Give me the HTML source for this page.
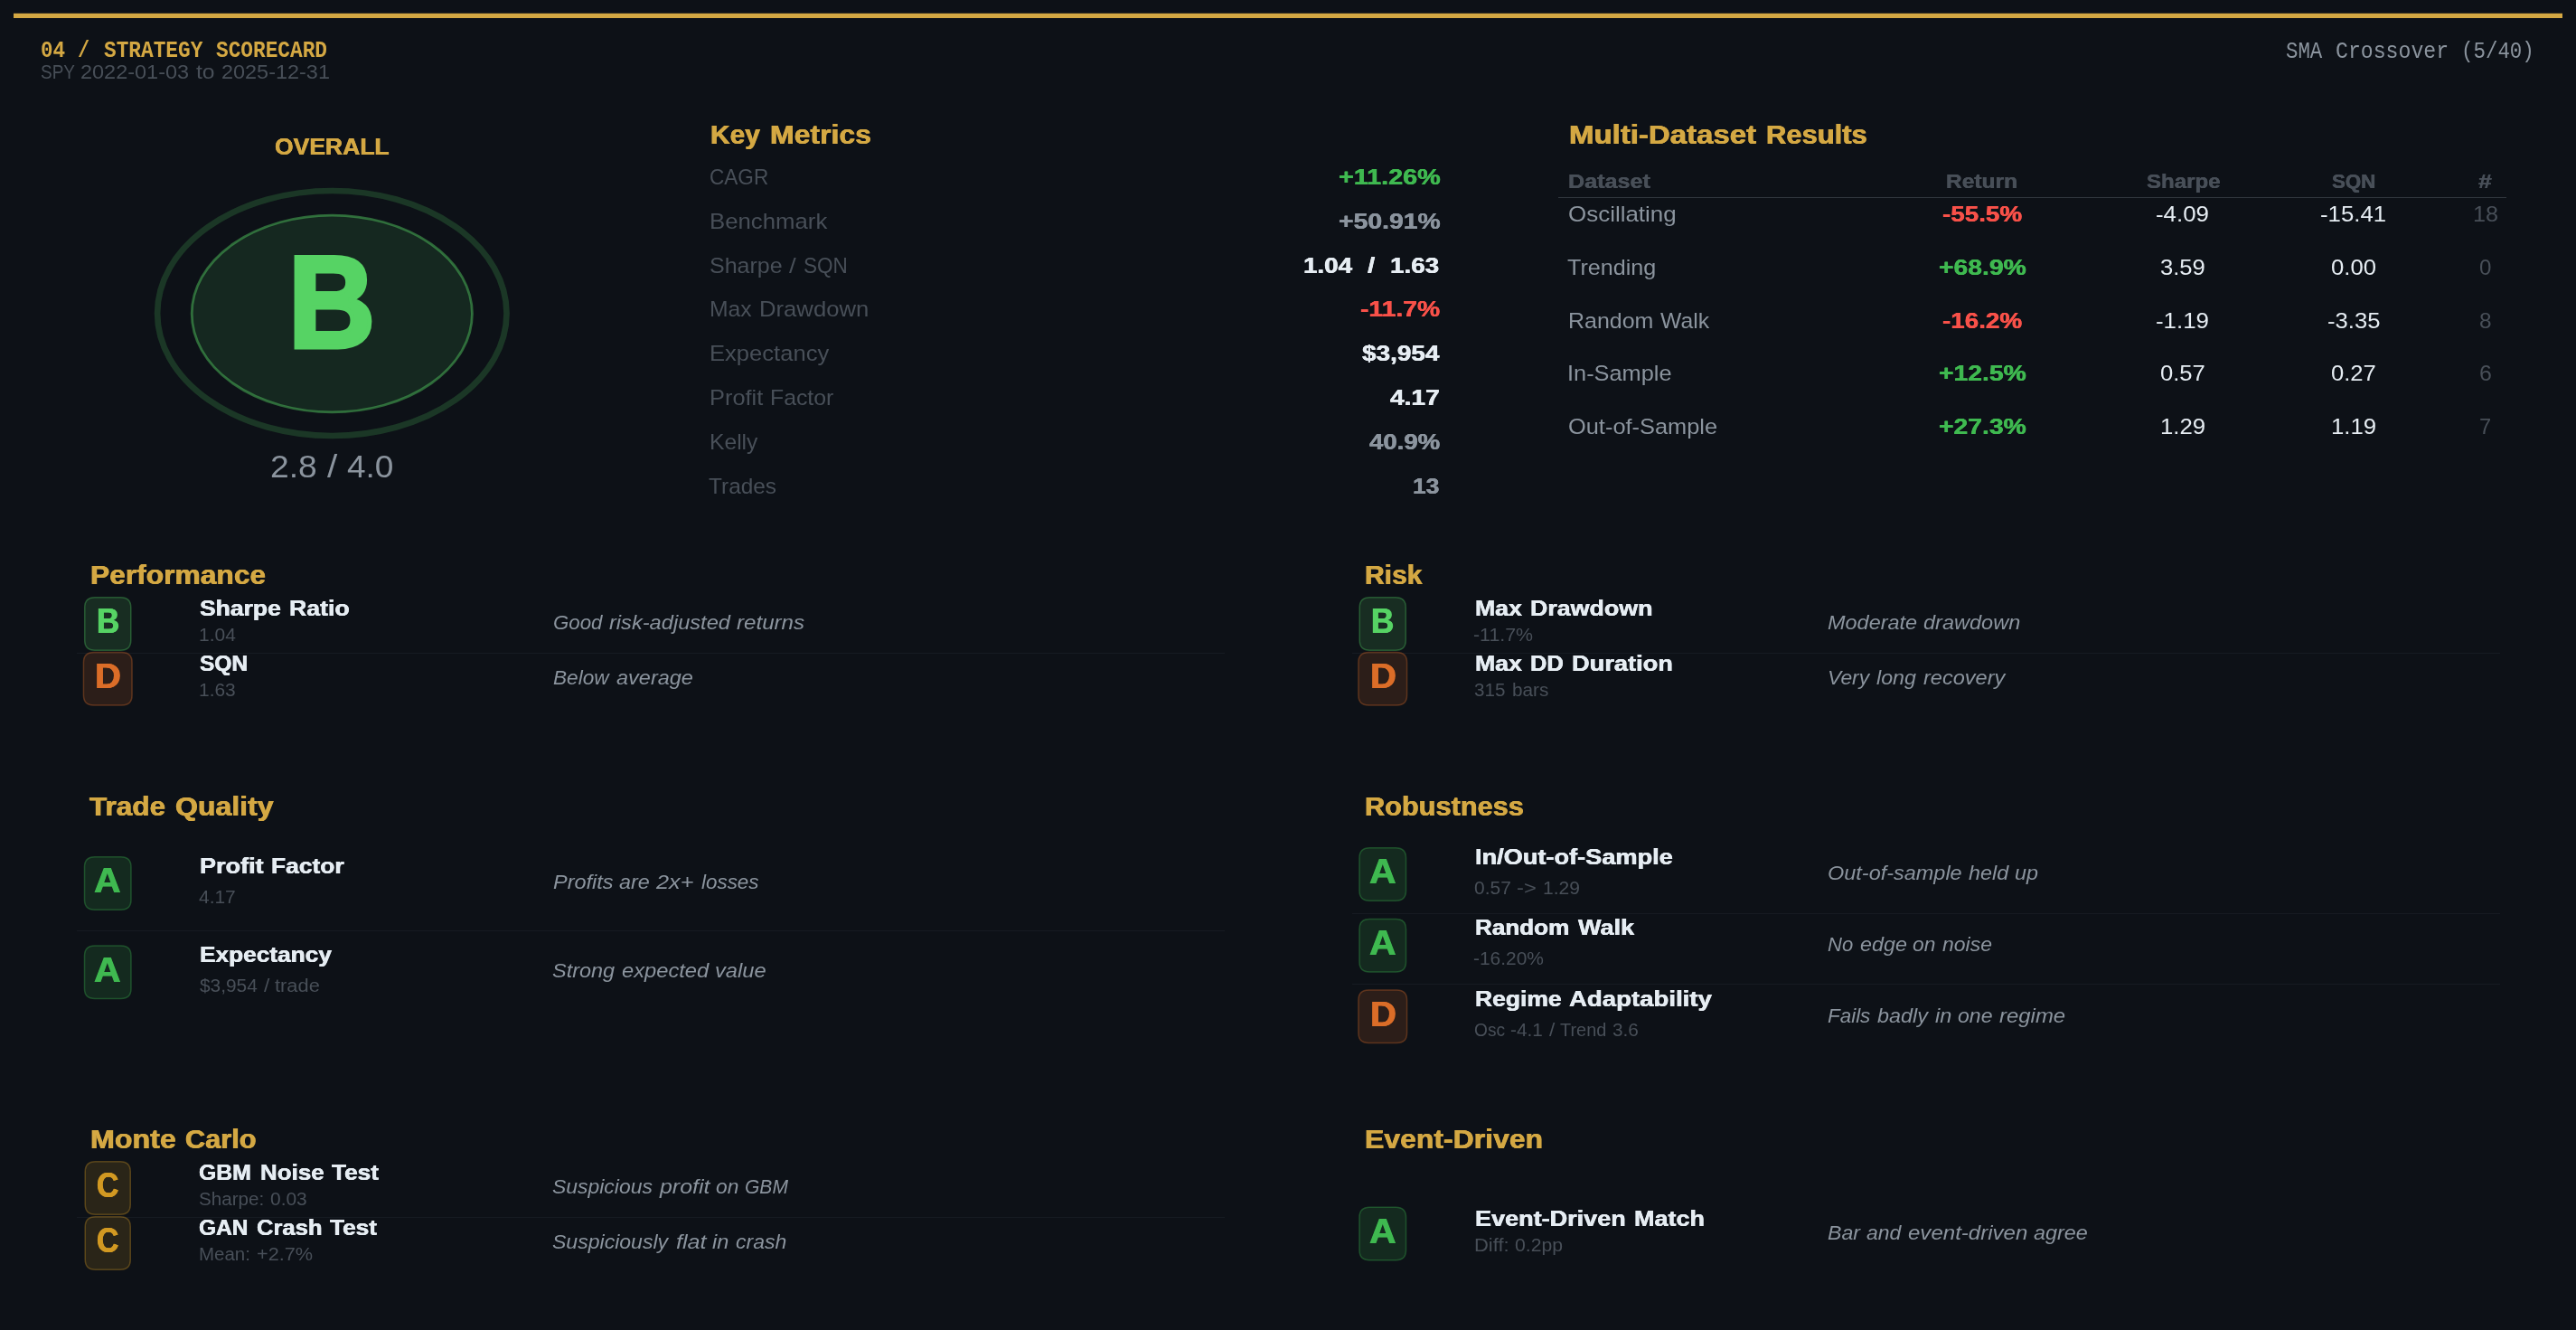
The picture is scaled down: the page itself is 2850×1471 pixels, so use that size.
<!DOCTYPE html>
<html lang="en"><head><meta charset="utf-8"><title>Strategy Scorecard</title>
<style>
html,body{margin:0;padding:0;}
body{width:2850px;height:1471px;background:#0d1117;position:relative;overflow:hidden;will-change:opacity;}
.t{position:absolute;white-space:pre;line-height:1;transform-origin:0 0;font-family:"Liberation Sans",sans-serif;}
.g{position:absolute;left:0;top:0;width:0;height:0;}
.b{font-weight:bold;}
.i{font-style:italic;}
.m{font-family:"Liberation Mono",monospace;}
.mb{font-family:"Liberation Mono",monospace;font-weight:bold;}
</style></head><body>
<div style="position:absolute;left:1724.00px;top:218.00px;width:1049.00px;height:1.00px;background:#30363d;"></div>
<div style="position:absolute;left:85.00px;top:722.00px;width:1270.00px;height:1.00px;background:#161b22;"></div>
<div style="position:absolute;left:1496.00px;top:722.00px;width:1270.00px;height:1.00px;background:#161b22;"></div>
<div style="position:absolute;left:85.00px;top:1029.00px;width:1270.00px;height:1.00px;background:#161b22;"></div>
<div style="position:absolute;left:1496.00px;top:1010.00px;width:1270.00px;height:1.00px;background:#161b22;"></div>
<div style="position:absolute;left:1496.00px;top:1088.00px;width:1270.00px;height:1.00px;background:#161b22;"></div>
<div style="position:absolute;left:85.00px;top:1346.00px;width:1270.00px;height:1.00px;background:#161b22;"></div>
<svg style="position:absolute;left:0;top:0" width="2850" height="1471" viewBox="0 0 2850 1471">
<rect x="15" y="14.8" width="2820" height="5.2" fill="#d4a843"/>
<ellipse cx="367.3" cy="346.5" rx="193.2" ry="135.5" fill="none" stroke="rgba(86,211,100,0.2)" stroke-width="6.7"/>
<ellipse cx="367.3" cy="347" rx="155.1" ry="108.9" fill="rgba(86,211,100,0.12)" stroke="rgba(86,211,100,0.45)" stroke-width="2.8"/>
<path d="M104.96,660.65 L133.54,660.65 Q144.79,660.65 144.79,671.90 L144.79,707.90 Q144.79,719.15 133.54,719.15 L104.96,719.15 Q93.71,719.15 93.71,707.90 L93.71,671.90 Q93.71,660.65 104.96,660.65 Z" fill="rgba(86,211,100,0.15)" stroke="rgba(86,211,100,0.34)" stroke-width="1.5"/>
<path d="M103.69,721.45 L134.81,721.45 Q146.06,721.45 146.06,732.70 L146.06,768.70 Q146.06,779.95 134.81,779.95 L103.69,779.95 Q92.44,779.95 92.44,768.70 L92.44,732.70 Q92.44,721.45 103.69,721.45 Z" fill="rgba(219,109,40,0.15)" stroke="rgba(219,109,40,0.34)" stroke-width="1.5"/>
<path d="M1515.46,660.65 L1544.04,660.65 Q1555.29,660.65 1555.29,671.90 L1555.29,707.90 Q1555.29,719.15 1544.04,719.15 L1515.46,719.15 Q1504.21,719.15 1504.21,707.90 L1504.21,671.90 Q1504.21,660.65 1515.46,660.65 Z" fill="rgba(86,211,100,0.15)" stroke="rgba(86,211,100,0.34)" stroke-width="1.5"/>
<path d="M1514.19,721.45 L1545.31,721.45 Q1556.56,721.45 1556.56,732.70 L1556.56,768.70 Q1556.56,779.95 1545.31,779.95 L1514.19,779.95 Q1502.94,779.95 1502.94,768.70 L1502.94,732.70 Q1502.94,721.45 1514.19,721.45 Z" fill="rgba(219,109,40,0.15)" stroke="rgba(219,109,40,0.34)" stroke-width="1.5"/>
<path d="M104.74,947.65 L133.76,947.65 Q145.01,947.65 145.01,958.90 L145.01,994.90 Q145.01,1006.15 133.76,1006.15 L104.74,1006.15 Q93.49,1006.15 93.49,994.90 L93.49,958.90 Q93.49,947.65 104.74,947.65 Z" fill="rgba(63,185,80,0.15)" stroke="rgba(63,185,80,0.34)" stroke-width="1.5"/>
<path d="M104.74,1045.95 L133.76,1045.95 Q145.01,1045.95 145.01,1057.20 L145.01,1093.20 Q145.01,1104.45 133.76,1104.45 L104.74,1104.45 Q93.49,1104.45 93.49,1093.20 L93.49,1057.20 Q93.49,1045.95 104.74,1045.95 Z" fill="rgba(63,185,80,0.15)" stroke="rgba(63,185,80,0.34)" stroke-width="1.5"/>
<path d="M1515.24,937.65 L1544.26,937.65 Q1555.51,937.65 1555.51,948.90 L1555.51,984.90 Q1555.51,996.15 1544.26,996.15 L1515.24,996.15 Q1503.99,996.15 1503.99,984.90 L1503.99,948.90 Q1503.99,937.65 1515.24,937.65 Z" fill="rgba(63,185,80,0.15)" stroke="rgba(63,185,80,0.34)" stroke-width="1.5"/>
<path d="M1515.24,1016.45 L1544.26,1016.45 Q1555.51,1016.45 1555.51,1027.70 L1555.51,1063.70 Q1555.51,1074.95 1544.26,1074.95 L1515.24,1074.95 Q1503.99,1074.95 1503.99,1063.70 L1503.99,1027.70 Q1503.99,1016.45 1515.24,1016.45 Z" fill="rgba(63,185,80,0.15)" stroke="rgba(63,185,80,0.34)" stroke-width="1.5"/>
<path d="M1514.19,1095.05 L1545.31,1095.05 Q1556.56,1095.05 1556.56,1106.30 L1556.56,1142.30 Q1556.56,1153.55 1545.31,1153.55 L1514.19,1153.55 Q1502.94,1153.55 1502.94,1142.30 L1502.94,1106.30 Q1502.94,1095.05 1514.19,1095.05 Z" fill="rgba(219,109,40,0.15)" stroke="rgba(219,109,40,0.34)" stroke-width="1.5"/>
<path d="M105.49,1284.85 L133.01,1284.85 Q144.26,1284.85 144.26,1296.10 L144.26,1332.10 Q144.26,1343.35 133.01,1343.35 L105.49,1343.35 Q94.24,1343.35 94.24,1332.10 L94.24,1296.10 Q94.24,1284.85 105.49,1284.85 Z" fill="rgba(210,153,34,0.15)" stroke="rgba(210,153,34,0.34)" stroke-width="1.5"/>
<path d="M105.49,1345.75 L133.01,1345.75 Q144.26,1345.75 144.26,1357.00 L144.26,1393.00 Q144.26,1404.25 133.01,1404.25 L105.49,1404.25 Q94.24,1404.25 94.24,1393.00 L94.24,1357.00 Q94.24,1345.75 105.49,1345.75 Z" fill="rgba(210,153,34,0.15)" stroke="rgba(210,153,34,0.34)" stroke-width="1.5"/>
<path d="M1515.24,1335.25 L1544.26,1335.25 Q1555.51,1335.25 1555.51,1346.50 L1555.51,1382.50 Q1555.51,1393.75 1544.26,1393.75 L1515.24,1393.75 Q1503.99,1393.75 1503.99,1382.50 L1503.99,1346.50 Q1503.99,1335.25 1515.24,1335.25 Z" fill="rgba(63,185,80,0.15)" stroke="rgba(63,185,80,0.34)" stroke-width="1.5"/>
</svg>
<div class="g"><span class="t mb" style="left:44.68px;top:44.00px;font-size:25.363px;color:#d4a843;transform:scaleX(0.8922)">04</span> <span class="t mb" style="left:86.30px;top:44.00px;font-size:25.363px;color:#d4a843;transform:scaleX(0.8675)">/</span> <span class="t mb" style="left:114.61px;top:44.00px;font-size:25.363px;color:#d4a843;transform:scaleX(0.8978)">STRATEGY</span> <span class="t mb" style="left:238.78px;top:44.00px;font-size:25.363px;color:#d4a843;transform:scaleX(0.8981)">SCORECARD</span></div>
<div class="g"><span class="t r" style="left:44.91px;top:69.00px;font-size:22.075px;color:#484f58;transform:scaleX(0.8607)">SPY</span> <span class="t r" style="left:89.42px;top:69.00px;font-size:22.075px;color:#484f58;transform:scaleX(1.0641)">2022-01-03</span> <span class="t r" style="left:216.96px;top:69.00px;font-size:22.075px;color:#484f58;transform:scaleX(1.1208)">to</span> <span class="t r" style="left:244.66px;top:69.00px;font-size:22.075px;color:#484f58;transform:scaleX(1.0628)">2025-12-31</span></div>
<div class="g"><span class="t m" style="left:2529.25px;top:45.20px;font-size:25.363px;color:#8b949e;transform:scaleX(0.8826)">SMA</span> <span class="t m" style="left:2584.02px;top:45.20px;font-size:25.363px;color:#8b949e;transform:scaleX(0.9134)">Crossover</span> <span class="t m" style="left:2722.74px;top:45.20px;font-size:25.363px;color:#8b949e;transform:scaleX(0.8845)">(5/40)</span></div>
<div class="g"><span class="t b" style="left:304.30px;top:148.60px;font-size:26.490px;color:#d4a843;text-shadow:0.37px 0 0 #d4a843,-0.37px 0 0 #d4a843;transform:scaleX(1.0011)">OVERALL</span></div>
<div class="g"><span class="t b" style="left:319.36px;top:261.60px;font-size:144.166px;color:#56d364;-webkit-text-stroke:5.00px;transform:scaleX(0.9230)">B</span></div>
<div class="g"><span class="t r" style="left:298.85px;top:498.30px;font-size:35.321px;color:#8b949e;transform:scaleX(1.0548)">2.8</span> <span class="t r" style="left:361.88px;top:498.30px;font-size:35.321px;color:#8b949e;transform:scaleX(1.1445)">/</span> <span class="t r" style="left:384.49px;top:498.30px;font-size:35.321px;color:#8b949e;transform:scaleX(1.0483)">4.0</span></div>
<div class="g"><span class="t b" style="left:785.69px;top:135.00px;font-size:29.000px;color:#d4a843;text-shadow:0.39px 0 0 #d4a843,-0.39px 0 0 #d4a843;transform:scaleX(1.0321)">Key</span> <span class="t b" style="left:851.52px;top:135.00px;font-size:29.000px;color:#d4a843;text-shadow:0.37px 0 0 #d4a843,-0.37px 0 0 #d4a843;transform:scaleX(1.1024)">Metrics</span></div>
<div class="g"><span class="t r" style="left:785.14px;top:183.80px;font-size:24.283px;color:#484f58;transform:scaleX(0.9300)">CAGR</span></div>
<div class="g"><span class="t b" style="left:1480.61px;top:183.80px;font-size:24.283px;color:#3fb950;text-shadow:0.29px 0 0 #3fb950,-0.29px 0 0 #3fb950;transform:scaleX(1.1854)">+11.26%</span></div>
<div class="g"><span class="t r" style="left:785.13px;top:232.68px;font-size:24.283px;color:#484f58;transform:scaleX(1.0616)">Benchmark</span></div>
<div class="g"><span class="t b" style="left:1480.63px;top:232.68px;font-size:24.283px;color:#8b949e;text-shadow:0.29px 0 0 #8b949e,-0.29px 0 0 #8b949e;transform:scaleX(1.1686)">+50.91%</span></div>
<div class="g"><span class="t r" style="left:785.37px;top:281.56px;font-size:24.283px;color:#484f58;transform:scaleX(1.0313)">Sharpe</span> <span class="t r" style="left:873.47px;top:281.56px;font-size:24.283px;color:#484f58;transform:scaleX(1.1438)">/</span> <span class="t r" style="left:888.96px;top:281.56px;font-size:24.283px;color:#484f58;transform:scaleX(0.9284)">SQN</span></div>
<div class="g"><span class="t b" style="left:1441.51px;top:281.56px;font-size:24.283px;color:#e6edf3;text-shadow:0.30px 0 0 #e6edf3,-0.30px 0 0 #e6edf3;transform:scaleX(1.1458)">1.04</span> <span class="t b" style="left:1512.88px;top:281.56px;font-size:24.283px;color:#e6edf3;text-shadow:0.28px 0 0 #e6edf3,-0.28px 0 0 #e6edf3;transform:scaleX(1.2242)">/</span> <span class="t b" style="left:1538.33px;top:281.56px;font-size:24.283px;color:#e6edf3;text-shadow:0.30px 0 0 #e6edf3,-0.30px 0 0 #e6edf3;transform:scaleX(1.1476)">1.63</span></div>
<div class="g"><span class="t r" style="left:785.22px;top:330.44px;font-size:24.283px;color:#484f58;transform:scaleX(1.0181)">Max</span> <span class="t r" style="left:839.80px;top:330.44px;font-size:24.283px;color:#484f58;transform:scaleX(1.0578)">Drawdown</span></div>
<div class="g"><span class="t b" style="left:1505.16px;top:330.44px;font-size:24.283px;color:#f85149;text-shadow:0.29px 0 0 #f85149,-0.29px 0 0 #f85149;transform:scaleX(1.1677)">-11.7%</span></div>
<div class="g"><span class="t r" style="left:785.15px;top:379.32px;font-size:24.283px;color:#484f58;transform:scaleX(1.0539)">Expectancy</span></div>
<div class="g"><span class="t b" style="left:1507.03px;top:379.32px;font-size:24.283px;color:#e6edf3;text-shadow:0.30px 0 0 #e6edf3,-0.30px 0 0 #e6edf3;transform:scaleX(1.1510)">$3,954</span></div>
<div class="g"><span class="t r" style="left:785.17px;top:428.20px;font-size:24.283px;color:#484f58;transform:scaleX(1.0460)">Profit</span> <span class="t r" style="left:852.27px;top:428.20px;font-size:24.283px;color:#484f58;transform:scaleX(1.0228)">Factor</span></div>
<div class="g"><span class="t b" style="left:1538.11px;top:428.20px;font-size:24.283px;color:#e6edf3;text-shadow:0.30px 0 0 #e6edf3,-0.30px 0 0 #e6edf3;transform:scaleX(1.1572)">4.17</span></div>
<div class="g"><span class="t r" style="left:785.23px;top:477.08px;font-size:24.283px;color:#484f58;transform:scaleX(1.0154)">Kelly</span></div>
<div class="g"><span class="t b" style="left:1515.15px;top:477.08px;font-size:24.283px;color:#8b949e;text-shadow:0.30px 0 0 #8b949e,-0.30px 0 0 #8b949e;transform:scaleX(1.1365)">40.9%</span></div>
<div class="g"><span class="t r" style="left:784.38px;top:525.96px;font-size:24.283px;color:#484f58;transform:scaleX(1.0058)">Trades</span></div>
<div class="g"><span class="t b" style="left:1563.07px;top:525.96px;font-size:24.283px;color:#8b949e;text-shadow:0.32px 0 0 #8b949e,-0.32px 0 0 #8b949e;transform:scaleX(1.0895)">13</span></div>
<div class="g"><span class="t b" style="left:1735.79px;top:135.20px;font-size:29.000px;color:#d4a843;text-shadow:0.36px 0 0 #d4a843,-0.36px 0 0 #d4a843;transform:scaleX(1.1374)">Multi-Dataset</span> <span class="t b" style="left:1953.75px;top:135.20px;font-size:29.000px;color:#d4a843;text-shadow:0.38px 0 0 #d4a843,-0.38px 0 0 #d4a843;transform:scaleX(1.0665)">Results</span></div>
<div class="g"><span class="t b" style="left:1735.24px;top:190.00px;font-size:22.075px;color:#484f58;text-shadow:0.27px 0 0 #484f58,-0.27px 0 0 #484f58;transform:scaleX(1.1394)">Dataset</span></div>
<div class="g"><span class="t b" style="left:2153.15px;top:190.00px;font-size:22.075px;color:#484f58;text-shadow:0.28px 0 0 #484f58,-0.28px 0 0 #484f58;transform:scaleX(1.1122)">Return</span></div>
<div class="g"><span class="t b" style="left:2374.51px;top:190.00px;font-size:22.075px;color:#484f58;text-shadow:0.29px 0 0 #484f58,-0.29px 0 0 #484f58;transform:scaleX(1.0910)">Sharpe</span></div>
<div class="g"><span class="t b" style="left:2580.49px;top:190.00px;font-size:22.075px;color:#484f58;text-shadow:0.31px 0 0 #484f58,-0.31px 0 0 #484f58;transform:scaleX(1.0094)">SQN</span></div>
<div class="g"><span class="t b" style="left:2742.14px;top:190.00px;font-size:22.075px;color:#484f58;text-shadow:0.26px 0 0 #484f58,-0.26px 0 0 #484f58;transform:scaleX(1.2126)">#</span></div>
<div class="g"><span class="t r" style="left:1734.56px;top:224.70px;font-size:24.283px;color:#8b949e;transform:scaleX(1.0692)">Oscillating</span></div>
<div class="g"><span class="t b" style="left:2148.59px;top:224.70px;font-size:24.283px;color:#f85149;text-shadow:0.30px 0 0 #f85149,-0.30px 0 0 #f85149;transform:scaleX(1.1468)">-55.5%</span></div>
<div class="g"><span class="t r" style="left:2385.32px;top:224.70px;font-size:24.283px;color:#e6edf3;transform:scaleX(1.0656)">-4.09</span></div>
<div class="g"><span class="t r" style="left:2567.44px;top:224.70px;font-size:24.283px;color:#e6edf3;transform:scaleX(1.0615)">-15.41</span></div>
<div class="g"><span class="t r" style="left:2735.61px;top:224.70px;font-size:24.283px;color:#484f58;transform:scaleX(1.0407)">18</span></div>
<div class="g"><span class="t r" style="left:1733.87px;top:284.00px;font-size:24.283px;color:#8b949e;transform:scaleX(1.0364)">Trending</span></div>
<div class="g"><span class="t b" style="left:2144.83px;top:284.00px;font-size:24.283px;color:#3fb950;text-shadow:0.29px 0 0 #3fb950,-0.29px 0 0 #3fb950;transform:scaleX(1.1665)">+68.9%</span></div>
<div class="g"><span class="t r" style="left:2390.26px;top:284.00px;font-size:24.283px;color:#e6edf3;transform:scaleX(1.0556)">3.59</span></div>
<div class="g"><span class="t r" style="left:2579.39px;top:284.00px;font-size:24.283px;color:#e6edf3;transform:scaleX(1.0586)">0.00</span></div>
<div class="g"><span class="t r" style="left:2742.88px;top:284.00px;font-size:24.283px;color:#484f58;transform:scaleX(0.9953)">0</span></div>
<div class="g"><span class="t r" style="left:1734.70px;top:343.00px;font-size:24.283px;color:#8b949e;transform:scaleX(1.0288)">Random</span> <span class="t r" style="left:1837.32px;top:343.00px;font-size:24.283px;color:#8b949e;transform:scaleX(1.0205)">Walk</span></div>
<div class="g"><span class="t b" style="left:2148.59px;top:343.00px;font-size:24.283px;color:#f85149;text-shadow:0.30px 0 0 #f85149,-0.30px 0 0 #f85149;transform:scaleX(1.1468)">-16.2%</span></div>
<div class="g"><span class="t r" style="left:2385.32px;top:343.00px;font-size:24.283px;color:#e6edf3;transform:scaleX(1.0656)">-1.19</span></div>
<div class="g"><span class="t r" style="left:2574.73px;top:343.00px;font-size:24.283px;color:#e6edf3;transform:scaleX(1.0556)">-3.35</span></div>
<div class="g"><span class="t r" style="left:2742.80px;top:343.00px;font-size:24.283px;color:#484f58;transform:scaleX(1.0061)">8</span></div>
<div class="g"><span class="t r" style="left:1734.41px;top:401.20px;font-size:24.283px;color:#8b949e;transform:scaleX(1.0442)">In-Sample</span></div>
<div class="g"><span class="t b" style="left:2144.83px;top:401.20px;font-size:24.283px;color:#3fb950;text-shadow:0.29px 0 0 #3fb950,-0.29px 0 0 #3fb950;transform:scaleX(1.1665)">+12.5%</span></div>
<div class="g"><span class="t r" style="left:2390.00px;top:401.20px;font-size:24.283px;color:#e6edf3;transform:scaleX(1.0553)">0.57</span></div>
<div class="g"><span class="t r" style="left:2579.40px;top:401.20px;font-size:24.283px;color:#e6edf3;transform:scaleX(1.0553)">0.27</span></div>
<div class="g"><span class="t r" style="left:2742.64px;top:401.20px;font-size:24.283px;color:#484f58;transform:scaleX(1.0301)">6</span></div>
<div class="g"><span class="t r" style="left:1734.58px;top:460.00px;font-size:24.283px;color:#8b949e;transform:scaleX(1.0463)">Out-of-Sample</span></div>
<div class="g"><span class="t b" style="left:2144.83px;top:460.00px;font-size:24.283px;color:#3fb950;text-shadow:0.29px 0 0 #3fb950,-0.29px 0 0 #3fb950;transform:scaleX(1.1665)">+27.3%</span></div>
<div class="g"><span class="t r" style="left:2390.04px;top:460.00px;font-size:24.283px;color:#e6edf3;transform:scaleX(1.0602)">1.29</span></div>
<div class="g"><span class="t r" style="left:2579.44px;top:460.00px;font-size:24.283px;color:#e6edf3;transform:scaleX(1.0602)">1.19</span></div>
<div class="g"><span class="t r" style="left:2742.98px;top:460.00px;font-size:24.283px;color:#484f58;transform:scaleX(0.9736)">7</span></div>
<div class="g"><span class="t b" style="left:99.67px;top:621.80px;font-size:29.000px;color:#d4a843;text-shadow:0.37px 0 0 #d4a843,-0.37px 0 0 #d4a843;transform:scaleX(1.0948)">Performance</span></div>
<div class="g"><span class="t b" style="left:106.62px;top:667.25px;font-size:39.000px;color:#56d364;text-shadow:0.63px 0 0 #56d364,-0.63px 0 0 #56d364;transform:scaleX(0.8986)">B</span></div>
<div class="g"><span class="t b" style="left:221.23px;top:661.10px;font-size:24.283px;color:#e6edf3;text-shadow:0.32px 0 0 #e6edf3,-0.32px 0 0 #e6edf3;transform:scaleX(1.0911)">Sharpe</span> <span class="t b" style="left:320.17px;top:661.10px;font-size:24.283px;color:#e6edf3;text-shadow:0.31px 0 0 #e6edf3,-0.31px 0 0 #e6edf3;transform:scaleX(1.0997)">Ratio</span></div>
<div class="g"><span class="t r" style="left:220.46px;top:693.10px;font-size:19.868px;color:#484f58;transform:scaleX(1.0567)">1.04</span></div>
<div class="g"><span class="t i" style="left:611.84px;top:678.10px;font-size:22.075px;color:#8b949e;transform:scaleX(1.0101)">Good</span> <span class="t i" style="left:673.82px;top:678.10px;font-size:22.075px;color:#8b949e;transform:scaleX(1.0711)">risk-adjusted</span> <span class="t i" style="left:815.27px;top:678.10px;font-size:22.075px;color:#8b949e;transform:scaleX(1.0937)">returns</span></div>
<div class="g"><span class="t b" style="left:105.01px;top:728.05px;font-size:39.000px;color:#db6d28;text-shadow:0.55px 0 0 #db6d28,-0.55px 0 0 #db6d28;transform:scaleX(1.0283)">D</span></div>
<div class="g"><span class="t b" style="left:221.28px;top:722.00px;font-size:24.283px;color:#e6edf3;text-shadow:0.34px 0 0 #e6edf3,-0.34px 0 0 #e6edf3;transform:scaleX(1.0094)">SQN</span></div>
<div class="g"><span class="t r" style="left:220.47px;top:754.00px;font-size:19.868px;color:#484f58;transform:scaleX(1.0529)">1.63</span></div>
<div class="g"><span class="t i" style="left:611.86px;top:738.90px;font-size:22.075px;color:#8b949e;transform:scaleX(1.0255)">Below</span> <span class="t i" style="left:681.63px;top:738.90px;font-size:22.075px;color:#8b949e;transform:scaleX(1.0649)">average</span></div>
<div class="g"><span class="t b" style="left:1510.28px;top:621.80px;font-size:29.000px;color:#d4a843;text-shadow:0.39px 0 0 #d4a843,-0.39px 0 0 #d4a843;transform:scaleX(1.0359)">Risk</span></div>
<div class="g"><span class="t b" style="left:1517.12px;top:667.25px;font-size:39.000px;color:#56d364;text-shadow:0.63px 0 0 #56d364,-0.63px 0 0 #56d364;transform:scaleX(0.8986)">B</span></div>
<div class="g"><span class="t b" style="left:1631.96px;top:661.10px;font-size:24.283px;color:#e6edf3;text-shadow:0.31px 0 0 #e6edf3,-0.31px 0 0 #e6edf3;transform:scaleX(1.0990)">Max</span> <span class="t b" style="left:1692.98px;top:661.10px;font-size:24.283px;color:#e6edf3;text-shadow:0.31px 0 0 #e6edf3,-0.31px 0 0 #e6edf3;transform:scaleX(1.1042)">Drawdown</span></div>
<div class="g"><span class="t r" style="left:1630.47px;top:693.10px;font-size:19.868px;color:#484f58;transform:scaleX(1.0755)">-11.7%</span></div>
<div class="g"><span class="t i" style="left:2022.34px;top:678.10px;font-size:22.075px;color:#8b949e;transform:scaleX(1.0641)">Moderate</span> <span class="t i" style="left:2128.37px;top:678.10px;font-size:22.075px;color:#8b949e;transform:scaleX(1.0668)">drawdown</span></div>
<div class="g"><span class="t b" style="left:1515.51px;top:728.05px;font-size:39.000px;color:#db6d28;text-shadow:0.55px 0 0 #db6d28,-0.55px 0 0 #db6d28;transform:scaleX(1.0283)">D</span></div>
<div class="g"><span class="t b" style="left:1631.96px;top:722.00px;font-size:24.283px;color:#e6edf3;text-shadow:0.31px 0 0 #e6edf3,-0.31px 0 0 #e6edf3;transform:scaleX(1.0990)">Max</span> <span class="t b" style="left:1693.07px;top:722.00px;font-size:24.283px;color:#e6edf3;text-shadow:0.33px 0 0 #e6edf3,-0.33px 0 0 #e6edf3;transform:scaleX(1.0505)">DD</span> <span class="t b" style="left:1738.98px;top:722.00px;font-size:24.283px;color:#e6edf3;text-shadow:0.31px 0 0 #e6edf3,-0.31px 0 0 #e6edf3;transform:scaleX(1.1216)">Duration</span></div>
<div class="g"><span class="t r" style="left:1631.14px;top:754.00px;font-size:19.868px;color:#484f58;transform:scaleX(1.0371)">315</span> <span class="t r" style="left:1672.61px;top:754.00px;font-size:19.868px;color:#484f58;transform:scaleX(1.0439)">bars</span></div>
<div class="g"><span class="t i" style="left:2022.15px;top:738.90px;font-size:22.075px;color:#8b949e;transform:scaleX(1.0366)">Very</span> <span class="t i" style="left:2076.22px;top:738.90px;font-size:22.075px;color:#8b949e;transform:scaleX(1.0548)">long</span> <span class="t i" style="left:2127.79px;top:738.90px;font-size:22.075px;color:#8b949e;transform:scaleX(1.0676)">recovery</span></div>
<div class="g"><span class="t b" style="left:99.08px;top:878.00px;font-size:29.000px;color:#d4a843;text-shadow:0.37px 0 0 #d4a843,-0.37px 0 0 #d4a843;transform:scaleX(1.0864)">Trade</span> <span class="t b" style="left:193.66px;top:878.00px;font-size:29.000px;color:#d4a843;text-shadow:0.37px 0 0 #d4a843,-0.37px 0 0 #d4a843;transform:scaleX(1.1045)">Quality</span></div>
<div class="g"><span class="t b" style="left:104.46px;top:954.25px;font-size:39.000px;color:#3fb950;text-shadow:0.53px 0 0 #3fb950,-0.53px 0 0 #3fb950;transform:scaleX(1.0519)">A</span></div>
<div class="g"><span class="t b" style="left:220.64px;top:945.70px;font-size:24.283px;color:#e6edf3;text-shadow:0.31px 0 0 #e6edf3,-0.31px 0 0 #e6edf3;transform:scaleX(1.1144)">Profit</span> <span class="t b" style="left:300.44px;top:945.70px;font-size:24.283px;color:#e6edf3;text-shadow:0.32px 0 0 #e6edf3,-0.32px 0 0 #e6edf3;transform:scaleX(1.0876)">Factor</span></div>
<div class="g"><span class="t r" style="left:220.43px;top:983.00px;font-size:19.868px;color:#484f58;transform:scaleX(1.0546)">4.17</span></div>
<div class="g"><span class="t i" style="left:611.84px;top:965.10px;font-size:22.075px;color:#8b949e;transform:scaleX(1.0645)">Profits</span> <span class="t i" style="left:685.31px;top:965.10px;font-size:22.075px;color:#8b949e;transform:scaleX(1.0587)">are</span> <span class="t i" style="left:725.98px;top:965.10px;font-size:22.075px;color:#8b949e;transform:scaleX(1.1463)">2x+</span> <span class="t i" style="left:775.78px;top:965.10px;font-size:22.075px;color:#8b949e;transform:scaleX(1.0163)">losses</span></div>
<div class="g"><span class="t b" style="left:104.46px;top:1052.55px;font-size:39.000px;color:#3fb950;text-shadow:0.53px 0 0 #3fb950,-0.53px 0 0 #3fb950;transform:scaleX(1.0519)">A</span></div>
<div class="g"><span class="t b" style="left:220.69px;top:1044.30px;font-size:24.283px;color:#e6edf3;text-shadow:0.32px 0 0 #e6edf3,-0.32px 0 0 #e6edf3;transform:scaleX(1.0817)">Expectancy</span></div>
<div class="g"><span class="t r" style="left:221.33px;top:1081.30px;font-size:19.868px;color:#484f58;transform:scaleX(1.0508)">$3,954</span> <span class="t r" style="left:291.57px;top:1081.30px;font-size:19.868px;color:#484f58;transform:scaleX(1.1421)">/</span> <span class="t r" style="left:304.02px;top:1081.30px;font-size:19.868px;color:#484f58;transform:scaleX(1.0999)">trade</span></div>
<div class="g"><span class="t i" style="left:611.46px;top:1063.40px;font-size:22.075px;color:#8b949e;transform:scaleX(1.0625)">Strong</span> <span class="t i" style="left:687.91px;top:1063.40px;font-size:22.075px;color:#8b949e;transform:scaleX(1.0739)">expected</span> <span class="t i" style="left:791.43px;top:1063.40px;font-size:22.075px;color:#8b949e;transform:scaleX(1.0741)">value</span></div>
<div class="g"><span class="t b" style="left:1510.24px;top:878.00px;font-size:29.000px;color:#d4a843;text-shadow:0.38px 0 0 #d4a843,-0.38px 0 0 #d4a843;transform:scaleX(1.0593)">Robustness</span></div>
<div class="g"><span class="t b" style="left:1514.96px;top:944.25px;font-size:39.000px;color:#3fb950;text-shadow:0.53px 0 0 #3fb950,-0.53px 0 0 #3fb950;transform:scaleX(1.0519)">A</span></div>
<div class="g"><span class="t b" style="left:1631.93px;top:935.60px;font-size:24.283px;color:#e6edf3;text-shadow:0.31px 0 0 #e6edf3,-0.31px 0 0 #e6edf3;transform:scaleX(1.1193)">In/Out-of-Sample</span></div>
<div class="g"><span class="t r" style="left:1630.92px;top:973.00px;font-size:19.868px;color:#484f58;transform:scaleX(1.0550)">0.57</span> <span class="t r" style="left:1678.07px;top:973.00px;font-size:19.868px;color:#484f58;transform:scaleX(1.1960)">-&gt;</span> <span class="t r" style="left:1707.10px;top:973.00px;font-size:19.868px;color:#484f58;transform:scaleX(1.0599)">1.29</span></div>
<div class="g"><span class="t i" style="left:2022.06px;top:955.10px;font-size:22.075px;color:#8b949e;transform:scaleX(1.0634)">Out-of-sample</span> <span class="t i" style="left:2177.73px;top:955.10px;font-size:22.075px;color:#8b949e;transform:scaleX(1.0586)">held</span> <span class="t i" style="left:2229.25px;top:955.10px;font-size:22.075px;color:#8b949e;transform:scaleX(1.0599)">up</span></div>
<div class="g"><span class="t b" style="left:1514.96px;top:1023.05px;font-size:39.000px;color:#3fb950;text-shadow:0.53px 0 0 #3fb950,-0.53px 0 0 #3fb950;transform:scaleX(1.0519)">A</span></div>
<div class="g"><span class="t b" style="left:1632.00px;top:1014.40px;font-size:24.283px;color:#e6edf3;text-shadow:0.32px 0 0 #e6edf3,-0.32px 0 0 #e6edf3;transform:scaleX(1.0735)">Random</span> <span class="t b" style="left:1745.73px;top:1014.40px;font-size:24.283px;color:#e6edf3;text-shadow:0.31px 0 0 #e6edf3,-0.31px 0 0 #e6edf3;transform:scaleX(1.1137)">Walk</span></div>
<div class="g"><span class="t r" style="left:1630.48px;top:1051.00px;font-size:19.868px;color:#484f58;transform:scaleX(1.0543)">-16.20%</span></div>
<div class="g"><span class="t i" style="left:2022.38px;top:1033.90px;font-size:22.075px;color:#8b949e;transform:scaleX(0.9997)">No</span> <span class="t i" style="left:2057.62px;top:1033.90px;font-size:22.075px;color:#8b949e;transform:scaleX(1.0562)">edge</span> <span class="t i" style="left:2116.37px;top:1033.90px;font-size:22.075px;color:#8b949e;transform:scaleX(1.0332)">on</span> <span class="t i" style="left:2149.08px;top:1033.90px;font-size:22.075px;color:#8b949e;transform:scaleX(1.0424)">noise</span></div>
<div class="g"><span class="t b" style="left:1515.51px;top:1101.65px;font-size:39.000px;color:#db6d28;text-shadow:0.55px 0 0 #db6d28,-0.55px 0 0 #db6d28;transform:scaleX(1.0283)">D</span></div>
<div class="g"><span class="t b" style="left:1631.97px;top:1093.40px;font-size:24.283px;color:#e6edf3;text-shadow:0.32px 0 0 #e6edf3,-0.32px 0 0 #e6edf3;transform:scaleX(1.0912)">Regime</span> <span class="t b" style="left:1735.92px;top:1093.40px;font-size:24.283px;color:#e6edf3;text-shadow:0.30px 0 0 #e6edf3,-0.30px 0 0 #e6edf3;transform:scaleX(1.1371)">Adaptability</span></div>
<div class="g"><span class="t r" style="left:1630.65px;top:1130.00px;font-size:19.868px;color:#484f58;transform:scaleX(0.9637)">Osc</span> <span class="t r" style="left:1671.29px;top:1130.00px;font-size:19.868px;color:#484f58;transform:scaleX(1.0481)">-4.1</span> <span class="t r" style="left:1713.84px;top:1130.00px;font-size:19.868px;color:#484f58;transform:scaleX(1.1421)">/</span> <span class="t r" style="left:1725.61px;top:1130.00px;font-size:19.868px;color:#484f58;transform:scaleX(1.0048)">Trend</span> <span class="t r" style="left:1784.03px;top:1130.00px;font-size:19.868px;color:#484f58;transform:scaleX(1.0473)">3.6</span></div>
<div class="g"><span class="t i" style="left:2022.37px;top:1112.50px;font-size:22.075px;color:#8b949e;transform:scaleX(1.0159)">Fails</span> <span class="t i" style="left:2076.72px;top:1112.50px;font-size:22.075px;color:#8b949e;transform:scaleX(1.0610)">badly</span> <span class="t i" style="left:2140.61px;top:1112.50px;font-size:22.075px;color:#8b949e;transform:scaleX(1.0653)">in</span> <span class="t i" style="left:2166.07px;top:1112.50px;font-size:22.075px;color:#8b949e;transform:scaleX(1.0458)">one</span> <span class="t i" style="left:2211.60px;top:1112.50px;font-size:22.075px;color:#8b949e;transform:scaleX(1.0845)">regime</span></div>
<div class="g"><span class="t b" style="left:99.64px;top:1246.20px;font-size:29.000px;color:#d4a843;text-shadow:0.37px 0 0 #d4a843,-0.37px 0 0 #d4a843;transform:scaleX(1.1104)">Monte</span> <span class="t b" style="left:204.98px;top:1246.20px;font-size:29.000px;color:#d4a843;text-shadow:0.38px 0 0 #d4a843,-0.38px 0 0 #d4a843;transform:scaleX(1.0593)">Carlo</span></div>
<div class="g"><span class="t b" style="left:106.53px;top:1291.45px;font-size:39.000px;color:#d29922;text-shadow:0.65px 0 0 #d29922,-0.65px 0 0 #d29922;transform:scaleX(0.8676)">C</span></div>
<div class="g"><span class="t b" style="left:220.47px;top:1285.20px;font-size:24.283px;color:#e6edf3;text-shadow:0.34px 0 0 #e6edf3,-0.34px 0 0 #e6edf3;transform:scaleX(1.0210)">GBM</span> <span class="t b" style="left:287.77px;top:1285.20px;font-size:24.283px;color:#e6edf3;text-shadow:0.32px 0 0 #e6edf3,-0.32px 0 0 #e6edf3;transform:scaleX(1.0695)">Noise</span> <span class="t b" style="left:367.16px;top:1285.20px;font-size:24.283px;color:#e6edf3;text-shadow:0.32px 0 0 #e6edf3,-0.32px 0 0 #e6edf3;transform:scaleX(1.0816)">Test</span></div>
<div class="g"><span class="t r" style="left:220.30px;top:1317.10px;font-size:19.868px;color:#484f58;transform:scaleX(1.0369)">Sharpe:</span> <span class="t r" style="left:299.12px;top:1317.10px;font-size:19.868px;color:#484f58;transform:scaleX(1.0541)">0.03</span></div>
<div class="g"><span class="t i" style="left:611.47px;top:1302.30px;font-size:22.075px;color:#8b949e;transform:scaleX(1.0394)">Suspicious</span> <span class="t i" style="left:729.52px;top:1302.30px;font-size:22.075px;color:#8b949e;transform:scaleX(1.1288)">profit</span> <span class="t i" style="left:791.96px;top:1302.30px;font-size:22.075px;color:#8b949e;transform:scaleX(1.0332)">on</span> <span class="t i" style="left:824.22px;top:1302.30px;font-size:22.075px;color:#8b949e;transform:scaleX(0.9540)">GBM</span></div>
<div class="g"><span class="t b" style="left:106.53px;top:1352.35px;font-size:39.000px;color:#d29922;text-shadow:0.65px 0 0 #d29922,-0.65px 0 0 #d29922;transform:scaleX(0.8676)">C</span></div>
<div class="g"><span class="t b" style="left:220.48px;top:1346.10px;font-size:24.283px;color:#e6edf3;text-shadow:0.34px 0 0 #e6edf3,-0.34px 0 0 #e6edf3;transform:scaleX(1.0095)">GAN</span> <span class="t b" style="left:284.14px;top:1346.10px;font-size:24.283px;color:#e6edf3;text-shadow:0.33px 0 0 #e6edf3,-0.33px 0 0 #e6edf3;transform:scaleX(1.0549)">Crash</span> <span class="t b" style="left:365.38px;top:1346.10px;font-size:24.283px;color:#e6edf3;text-shadow:0.32px 0 0 #e6edf3,-0.32px 0 0 #e6edf3;transform:scaleX(1.0816)">Test</span></div>
<div class="g"><span class="t r" style="left:220.16px;top:1378.40px;font-size:19.868px;color:#484f58;transform:scaleX(1.0312)">Mean:</span> <span class="t r" style="left:284.29px;top:1378.40px;font-size:19.868px;color:#484f58;transform:scaleX(1.0929)">+2.7%</span></div>
<div class="g"><span class="t i" style="left:611.47px;top:1363.20px;font-size:22.075px;color:#8b949e;transform:scaleX(1.0442)">Suspiciously</span> <span class="t i" style="left:747.65px;top:1363.20px;font-size:22.075px;color:#8b949e;transform:scaleX(1.1413)">flat</span> <span class="t i" style="left:788.45px;top:1363.20px;font-size:22.075px;color:#8b949e;transform:scaleX(1.0653)">in</span> <span class="t i" style="left:813.91px;top:1363.20px;font-size:22.075px;color:#8b949e;transform:scaleX(1.0432)">crash</span></div>
<div class="g"><span class="t b" style="left:1510.15px;top:1246.20px;font-size:29.000px;color:#d4a843;text-shadow:0.37px 0 0 #d4a843,-0.37px 0 0 #d4a843;transform:scaleX(1.1019)">Event-Driven</span></div>
<div class="g"><span class="t b" style="left:1514.96px;top:1341.85px;font-size:39.000px;color:#3fb950;text-shadow:0.53px 0 0 #3fb950,-0.53px 0 0 #3fb950;transform:scaleX(1.0519)">A</span></div>
<div class="g"><span class="t b" style="left:1631.94px;top:1336.00px;font-size:24.283px;color:#e6edf3;text-shadow:0.31px 0 0 #e6edf3,-0.31px 0 0 #e6edf3;transform:scaleX(1.1143)">Event-Driven</span> <span class="t b" style="left:1807.81px;top:1336.00px;font-size:24.283px;color:#e6edf3;text-shadow:0.31px 0 0 #e6edf3,-0.31px 0 0 #e6edf3;transform:scaleX(1.1129)">Match</span></div>
<div class="g"><span class="t r" style="left:1630.54px;top:1368.30px;font-size:19.868px;color:#484f58;transform:scaleX(1.1062)">Diff:</span> <span class="t r" style="left:1675.75px;top:1368.30px;font-size:19.868px;color:#484f58;transform:scaleX(1.0680)">0.2pp</span></div>
<div class="g"><span class="t i" style="left:2022.35px;top:1352.70px;font-size:22.075px;color:#8b949e;transform:scaleX(1.0504)">Bar</span> <span class="t i" style="left:2065.08px;top:1352.70px;font-size:22.075px;color:#8b949e;transform:scaleX(1.0416)">and</span> <span class="t i" style="left:2110.71px;top:1352.70px;font-size:22.075px;color:#8b949e;transform:scaleX(1.0897)">event-driven</span> <span class="t i" style="left:2250.30px;top:1352.70px;font-size:22.075px;color:#8b949e;transform:scaleX(1.0597)">agree</span></div>
</body></html>
